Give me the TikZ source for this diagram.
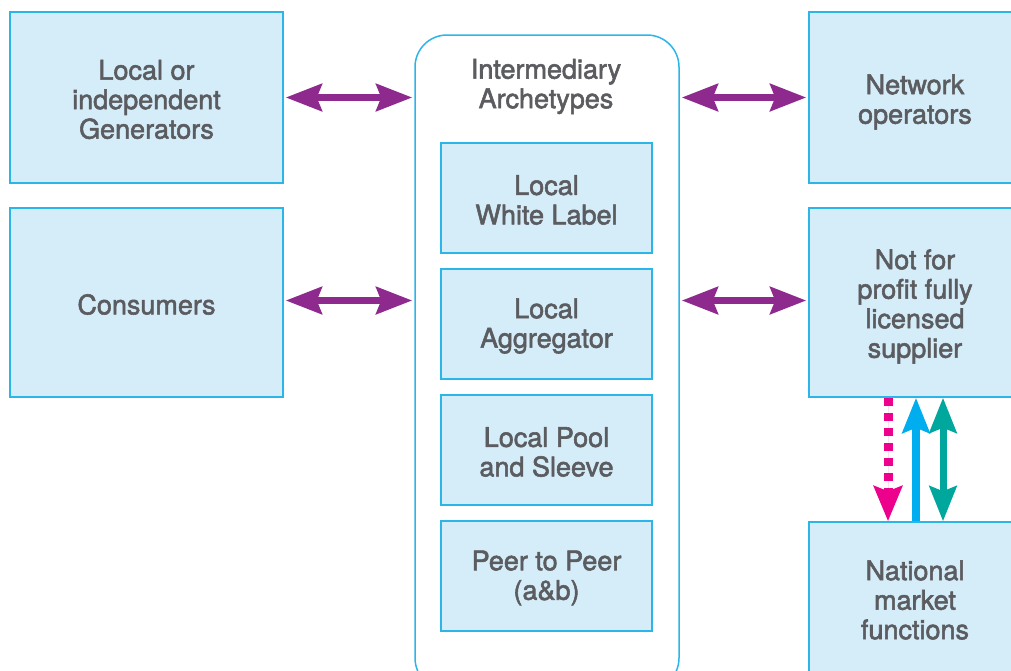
\documentclass[tikz,border=0pt]{standalone}
\usepackage{fontspec}
\setmainfont{TeX Gyre Heros}
\usetikzlibrary{arrows.meta,calc}
\definecolor{boxfill}{HTML}{D5ECF9}
\definecolor{boxline}{HTML}{2BB5E8}
\definecolor{txt}{HTML}{5B5C60}
\definecolor{purp}{HTML}{8E2A8E}
\definecolor{pinkc}{HTML}{EC008C}
\definecolor{bluec}{HTML}{00AEEF}
\definecolor{greenc}{HTML}{00A79D}
\tikzset{
  lbl/.style={text=txt, align=center, font=\fontsize{27}{29.5}\selectfont, inner sep=0pt,
    execute at begin node={\special{pdf:literal direct 0.55 w 2 Tr}},
    execute at end node={\special{pdf:literal direct 0 Tr}}},
  bluebox/.style={draw=boxline, fill=boxfill, line width=1.5pt, inner sep=0pt},
  bighead/.tip={Stealth[length=36pt, width=27pt, inset=5pt]},
  vhead/.tip={Stealth[length=35pt, width=27pt, inset=5pt]},
  purparrow/.style={draw=purp, line width=7pt, bighead-bighead, shorten <=2pt, shorten >=2pt},
}
\begin{document}
\begin{tikzpicture}[x=1pt, y=-1pt]
\useasboundingbox (0,0) rectangle (1011,670);
% left boxes
\node[bluebox, minimum width=273pt, minimum height=171pt,
  label={[lbl, yshift=-2pt]center:{Local or\\independent\\Generators}}] (gen) at (146.5,97.5) {};
\node[bluebox, minimum width=273pt, minimum height=189pt,
  label={[lbl, yshift=-2pt]center:{Consumers}}] (cons) at (146.5,302.5) {};
% intermediary container
\node[draw=boxline, fill=white, line width=1.5pt, rounded corners=32pt, minimum width=264pt, minimum height=655pt, inner sep=0pt] (inter) at (547,362.5) {};
\node[lbl] (title) at (546,86.5) {Intermediary\\Archetypes};
\node[bluebox, minimum width=211pt, minimum height=110pt,
  label={[lbl, yshift=-2pt]center:{Local\\White Label}}] (wl) at (546.5,198) {};
\node[bluebox, minimum width=211pt, minimum height=110pt,
  label={[lbl, yshift=-2pt]center:{Local\\Aggregator}}] (agg) at (546.5,324) {};
\node[bluebox, minimum width=211pt, minimum height=110pt,
  label={[lbl, yshift=-2pt]center:{Local Pool\\and Sleeve}}] (pool) at (546.5,450) {};
\node[bluebox, minimum width=211pt, minimum height=110pt,
  label={[lbl, yshift=-2pt]center:{Peer to Peer\\(a\&b)}}] (p2p) at (546.5,576) {};
% right boxes
\node[bluebox, minimum width=212pt, minimum height=171pt,
  label={[lbl, yshift=-4.5pt]center:{Network\\operators}}] (net) at (915,97.5) {};
\node[bluebox, minimum width=212pt, minimum height=189pt,
  label={[lbl, yshift=-4pt]center:{Not for\\profit fully\\licensed\\supplier}}] (nfp) at (915,302.5) {};
\node[bluebox, minimum width=212pt, minimum height=156pt,
  label={[lbl]center:{National\\market\\functions}}] (nat) at (915,600) {};
% purple arrows
\draw[purparrow] (gen.east) -- (gen.east -| inter.west);
\draw[purparrow] ($(cons.east)+(0,-2)$) -- ($(cons.east -| inter.west)+(0,-2)$);
\draw[purparrow] (net.west -| inter.east) -- (net.west);
\draw[purparrow] ($(nfp.west -| inter.east)+(0,-2)$) -- ($(nfp.west)+(0,-2)$);
% vertical arrows
\draw[draw=pinkc, fill=pinkc, line width=9pt, dash pattern=on 8pt off 7pt, -{Stealth[length=35pt, width=28pt, inset=5pt]}, shorten <=0.5pt]
  ([xshift=-27pt]nfp.south) -- ([xshift=-27pt]nat.north);
\draw[draw=bluec, line width=8pt, -vhead]
  ([xshift=1pt]nat.north) -- ([xshift=1pt]nfp.south);
\draw[draw=greenc, line width=7pt, vhead-vhead]
  ([xshift=28pt]nfp.south) -- ([xshift=28pt]nat.north);
\end{tikzpicture}
\end{document}
